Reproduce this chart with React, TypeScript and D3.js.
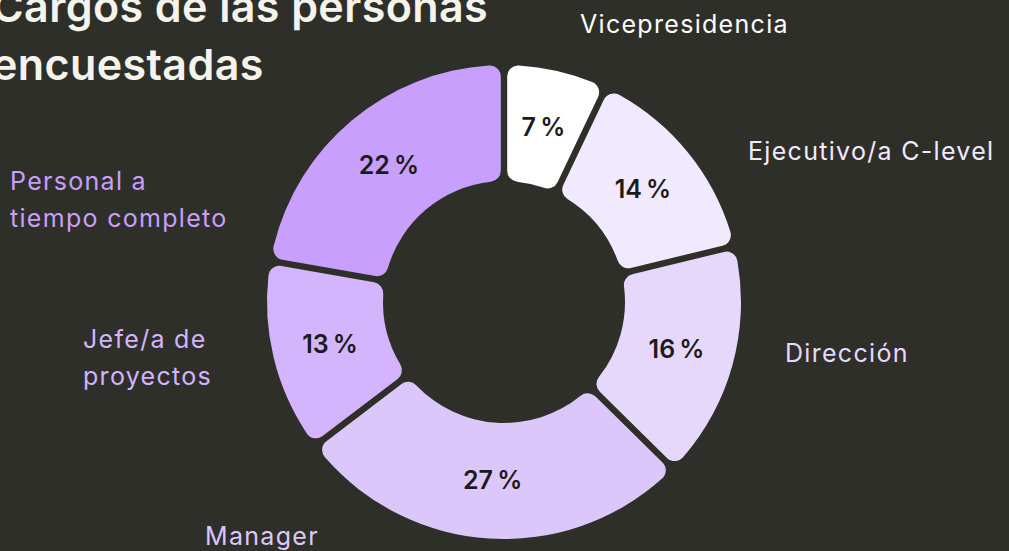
import React, { useEffect, useRef } from "react";
import * as d3 from "d3";

// categories, clockwise from 12 o'clock
const categories = [
  "Vicepresidencia",
  "Ejecutivo/a C-level",
  "Dirección",
  "Manager",
  "Jefe/a de proyectos",
  "Personal a tiempo completo",
];
const shares = [7, 14, 16, 27, 13, 22];
const sliceColors = ["#ffffff", "#f1e9fe", "#e6d8fb", "#dcc7fb", "#d3b4fd", "#c89ffc"];

// outer label lines and where they sit
const labelLines = [
  ["Vicepresidencia"],
  ["Ejecutivo/a C-level"],
  ["Dirección"],
  ["Manager"],
  ["Jefe/a de", "proyectos"],
  ["Personal a", "tiempo completo"],
];
const labelAnchors = [
  [580, 33],
  [748, 160],
  [785, 362],
  [205, 545],
  [83, 348],
  [10, 190],
];

const titleLines = ["Cargos de las personas", "encuestadas"];

const W = 1009;
const H = 551;
const FONT = "Inter, 'Noto Sans', sans-serif";

const App = () => {
  const ref = useRef<SVGSVGElement>(null);

  useEffect(() => {
    const svg = d3.select(ref.current);
    svg.selectAll("*").remove();

    svg.append("rect").attr("width", W).attr("height", H).attr("fill", "#2f2f2a");

    // title
    svg
      .append("g")
      .selectAll("text")
      .data(titleLines)
      .join("text")
      .attr("x", -8)
      .attr("y", (d, i) => 22 + i * 58)
      .attr("fill", "#f4f4ec")
      .attr("font-family", FONT)
      .attr("font-size", 43)
      .attr("font-weight", 600)
      .attr("letter-spacing", 0.4)
      .text((d) => d);

    const cx = 504;
    const cy = 302;

    const pie = d3
      .pie<number>()
      .sort(null)
      .value((d) => d);
    const arcs = pie(shares);

    const arc = d3
      .arc<d3.PieArcDatum<number>>()
      .innerRadius(121)
      .outerRadius(237)
      .cornerRadius(11)
      .padAngle(0.024);

    const g = svg.append("g").attr("transform", `translate(${cx},${cy})`);

    g.selectAll("path")
      .data(arcs)
      .join("path")
      .attr("d", arc)
      .attr("fill", (d, i) => sliceColors[i]);

    g.selectAll("text")
      .data(arcs)
      .join("text")
      .attr("transform", (d) => `translate(${arc.centroid(d)})`)
      .attr("text-anchor", "middle")
      .attr("dy", "0.35em")
      .attr("fill", "#1b1b1b")
      .attr("font-family", FONT)
      .attr("font-size", 25)
      .attr("font-weight", 600)
      .attr("letter-spacing", 0.8)
      .text((d) => `${d.data}\u202F%`);

    // outer labels
    const lg = svg.append("g");
    labelLines.forEach((lines, i) => {
      const t = lg
        .append("text")
        .attr("x", labelAnchors[i][0])
        .attr("y", labelAnchors[i][1])
        .attr("fill", sliceColors[i])
        .attr("font-family", FONT)
        .attr("font-size", 25)
        .attr("letter-spacing", 1.3);
      lines.forEach((line, j) => {
        t.append("tspan")
          .attr("x", labelAnchors[i][0])
          .attr("dy", j === 0 ? 0 : 37)
          .text(line);
      });
    });
  }, []);

  return (
    <svg
      ref={ref}
      width={W}
      height={H}
      style={{ position: "absolute", left: 0, top: 0 }}
    />
  );
};

export default App;
